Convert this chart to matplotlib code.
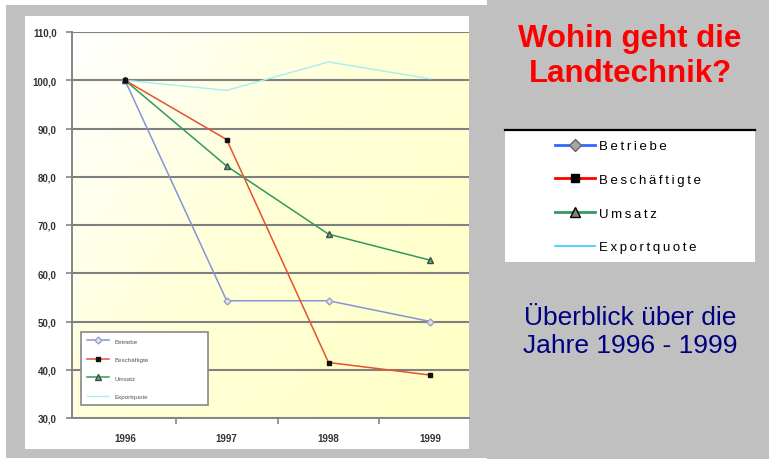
import numpy as np
import matplotlib
matplotlib.use('Agg')
from matplotlib import pyplot as plt
from matplotlib import ticker
import matplotlib.lines as mlines
import matplotlib.patches as mpatches
from matplotlib.colors import LinearSegmentedColormap

plt.rcParams['font.family'] = ['Liberation Sans', 'DejaVu Sans']

# data (index 1996 = 100)
years = ['1996', '1997', '1998', '1999']
betriebe = [100.0, 54.3, 54.3, 50.0]
beschaeftigte = [100.0, 87.7, 41.5, 38.9]
umsatz = [100.0, 82.2, 68.1, 62.7]
exportquote = [100.0, 97.9, 103.8, 100.3]
yticks = [30, 40, 50, 60, 70, 80, 90, 100, 110]
labels = ['Betriebe', 'Beschäftigte', 'Umsatz', 'Exportquote']

W, H = 769, 460
fig = plt.figure(figsize=(W / 100, H / 100), dpi=100)
fig.patch.set_facecolor('#C0C0C0')

def px_rect(x0, y0, x1, y1, z=-1, **kw):
    # rectangle in pixel coords (origin top-left)
    r = mpatches.Rectangle((x0 / W, 1 - y1 / H), (x1 - x0) / W, (y1 - y0) / H,
                           transform=fig.transFigure, zorder=z, **kw)
    fig.patches.append(r)
    return r

# white frame strips round the left block
px_rect(0, 0, 487, 6, facecolor='white', edgecolor='none')
px_rect(0, 0, 6, 460, facecolor='white', edgecolor='none')
px_rect(0, 459, 487, 460, facecolor='white', edgecolor='none')
# chart panel
px_rect(25, 17, 469, 450, facecolor='white', edgecolor='none')

# plot area
ax = fig.add_axes([72 / W, 1 - 419 / H, (469 - 72) / W, (419 - 33) / H])
ax.set_facecolor('none')
ax.set_zorder(2)

# yellow gradient background
gx, gy = np.meshgrid(np.linspace(0, 1, 200), np.linspace(0, 1, 200))
grad = np.clip(0.65 * gx + 0.45 * gy, 0, 1)
cmap = LinearSegmentedColormap.from_list('yel', ['#FFFFFF', '#FFFFD8', '#FFFFC8'])
ax.imshow(grad, extent=[-0.52, 3.38, 30, 110], aspect='auto',
          cmap=cmap, zorder=0, origin='upper')

x = np.arange(len(years))
ax.plot(x, exportquote, color='#A8EEF0', lw=1.0, zorder=3, label=labels[3])
ax.plot(x, betriebe, color='#8494D8', lw=1.1, marker='D', ms=3.5,
        mfc='#E4E4E8', mec='#9AA0C0', zorder=4, label=labels[0])
ax.plot(x, umsatz, color='#2F9A5C', lw=1.1, marker='^', ms=4,
        mfc='#7A9A80', mec='#335544', zorder=4, label=labels[2])
ax.plot(x, beschaeftigte, color='#E8502E', lw=1.1, marker='s', ms=3,
        mfc='#111111', mec='#111111', zorder=5, label=labels[1])

ax.set_xlim(-0.52, 3.38)
ax.set_ylim(30, 110)

ax.set_yticks(yticks)
ax.yaxis.set_major_formatter(ticker.FuncFormatter(lambda v, p: ('%.1f' % v).replace('.', ',')))
ax.grid(axis='y', color='#808080', lw=1.5, zorder=1)
ax.set_axisbelow(True)

ax.set_xticks(x)
ax.set_xticklabels(years)
ax.xaxis.set_minor_locator(ticker.FixedLocator([0.5, 1.5, 2.5]))
ax.tick_params(axis='x', which='major', length=0, pad=11)
ax.tick_params(axis='x', which='minor', length=4, direction='out', color='#858585', width=1.2)
ax.tick_params(axis='y', length=4, direction='out', color='#858585', width=1.2, pad=7)
plt.setp(ax.get_xticklabels() + ax.get_yticklabels(), fontsize=7, fontweight='bold',
         color='#333333')

for s in ['top', 'right']:
    ax.spines[s].set_visible(False)
for s in ['left', 'bottom']:
    ax.spines[s].set_color('#858585')
    ax.spines[s].set_linewidth(1.4)

# small legend inside chart
h, l = ax.get_legend_handles_labels()
order = [1, 3, 2, 0]
leg = ax.legend([h[i] for i in order], [l[i] for i in order],
                loc='upper left', mode='expand',
                bbox_to_anchor=((81 - 72) / (469 - 72), (419 - 333) / (419 - 33),
                                (208 - 81) / (469 - 72), 0.0),
                fontsize=4.5, handlelength=3.5, labelspacing=2.1, borderpad=1.0,
                fancybox=False, framealpha=1.0, edgecolor='#888888',
                borderaxespad=0)
leg.get_frame().set_linewidth(1.2)
for t in leg.get_texts():
    t.set_color('#555555')

# right side texts
fig.text(630 / W, 1 - 47 / H, 'Wohin geht die', color='#FF0000', fontsize=22.5,
         fontweight='bold', ha='center', va='baseline')
fig.text(630 / W, 1 - 82 / H, 'Landtechnik?', color='#FF0000', fontsize=22.5,
         fontweight='bold', ha='center', va='baseline')
fig.text(630 / W, 1 - 325 / H, 'Überblick über die', color='#000080', fontsize=19,
         ha='center', va='baseline')
fig.text(630 / W, 1 - 353 / H, 'Jahre 1996 - 1999', color='#000080', fontsize=19,
         ha='center', va='baseline')

# right legend box
px_rect(505, 130, 755, 263, z=1, facecolor='white', edgecolor='none')
fig.lines.append(mlines.Line2D([505 / W, 755 / W], [1 - 131 / H, 1 - 131 / H],
                               transform=fig.transFigure, color='black', lw=1.6, zorder=3))
proxies = [
    mlines.Line2D([], [], color='#3366FF', lw=2, marker='D', ms=6.5, mfc='#A6A6A6', mec='#666666'),
    mlines.Line2D([], [], color='#FF0000', lw=2, marker='s', ms=6, mfc='black', mec='black'),
    mlines.Line2D([], [], color='#339966', lw=2, marker='^', ms=7.5, mfc='#808080', mec='black'),
    mlines.Line2D([], [], color='#33CCFF', lw=1.2),
]
spaced = ['\u2009'.join(s) for s in labels]
rleg = fig.legend(proxies, spaced, loc='upper left', bbox_to_anchor=(555 / W, 1 - 141 / H),
                  frameon=False, fontsize=9.5, handlelength=3.0, handletextpad=0.3,
                  labelspacing=1.63, borderpad=0, borderaxespad=0)
rleg.set_zorder(5)

plt.savefig('out.png', dpi=100, facecolor=fig.get_facecolor())
plt.close()
